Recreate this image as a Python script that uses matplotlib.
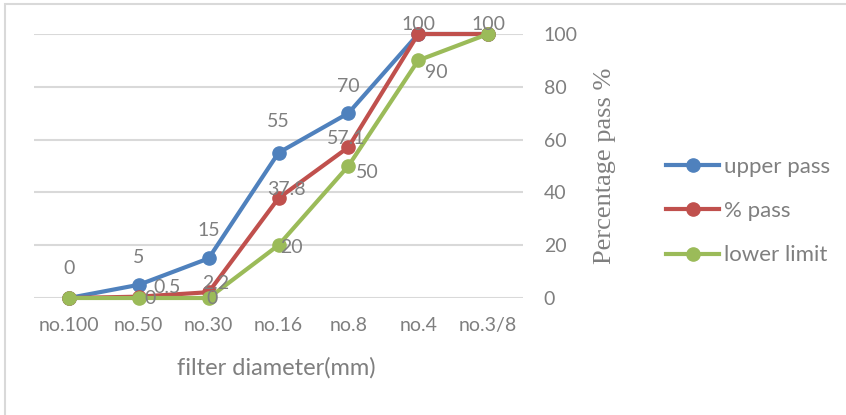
import matplotlib.pyplot as plt
from matplotlib.lines import Line2D
from matplotlib.patches import Rectangle

sieves = ["no.100", "no.50", "no.30", "no.16", "no.8", "no.4", "no.3/8"]
upper_pass = [0, 5, 15, 55, 70, 100, 100]
pct_pass = [0, 0.5, 2.2, 37.8, 57.1, 100, 100]
lower_limit = [0, 0, 0, 20, 50, 90, 100]

# label offsets in pixels (dx, dy), screen y points up
upper_off = [(0, 30), (0, 27), (0, 28), (0, 31), (0, 27), (0, 10), (0, 10)]
pct_off = [(0, 30), (28, 9), (7, 9), (8, 9), (-2, 9), (0, 10), (0, 10)]
lower_off = [(0, 30), (11, 0), (3, 0), (13, -2), (19, -6), (18, -12), (0, 10)]

grey = "#7f7f7f"
blue, red, green = "#4f81bd", "#c0504d", "#9bbb59"
plt.rcParams["font.family"] = ["Lato", "DejaVu Sans"]

fig = plt.figure(figsize=(8.46, 4.15), dpi=100)
fig.patches.append(Rectangle((5 / 846, -0.1), 2, 1.1 - 4 / 415, transform=fig.transFigure,
                             fill=False, edgecolor="#d9d9d9", lw=1.5))
ax = fig.add_axes([34 / 846, (415 - 298) / 415, (523 - 34) / 846, (298 - 34) / 415])

x = range(len(sieves))
series = [(upper_pass, blue, "upper pass", upper_off),
          (pct_pass, red, "% pass", pct_off),
          (lower_limit, green, "lower limit", lower_off)]
for vals, col, name, offs in series:
    ax.plot(x, vals, color=col, lw=3, marker="o", ms=9.5, label=name, clip_on=False, zorder=3)

# labels that land on the same spot with the same text are drawn once
placed = set()
for vals, col, name, offs in series:
    for i, v in enumerate(vals):
        key = (i, v, offs[i])
        if key in placed:
            continue
        placed.add(key)
        ax.annotate(f"{v:g}", (i, v), xytext=(offs[i][0] * 0.72, offs[i][1] * 0.72),
                    textcoords="offset points", ha="center", va="center",
                    fontsize=14, color=grey, zorder=5)

ax.set_xlim(-0.5, 6.5)
ax.set_ylim(0, 100)
ax.set_yticks(range(0, 101, 20))
ax.set_xticks(list(x))
ax.set_xticklabels(sieves)
ax.yaxis.tick_right()
ax.grid(axis="y", color="#d9d9d9", lw=1.5)
ax.set_axisbelow(True)
for s in ax.spines.values():
    s.set_visible(False)
ax.tick_params(axis="both", length=0, labelsize=14, labelcolor=grey)
ax.tick_params(axis="y", pad=15)
ax.tick_params(axis="x", pad=14)
for lbl in ax.get_yticklabels():
    lbl.set_horizontalalignment("left")

fig.text(276 / 846, 1 - 368 / 415, "filter diameter(mm)", ha="center", va="center",
         fontsize=17, color=grey)
fig.text(605 / 846, 1 - 166 / 415, "Percentage pass %", ha="center", va="center",
         rotation=90, fontsize=19, color=grey, family="Liberation Serif")

handles = [Line2D([], [], color=c, lw=3, marker="o", ms=9.5) for c in (blue, red, green)]
leg = fig.legend(handles, ["upper pass", "% pass", "lower limit"], loc="center left",
                 bbox_to_anchor=(646 / 846, 1 - 211 / 415), frameon=False, fontsize=16,
                 handlelength=2.4, handletextpad=0.2, labelspacing=1.1, labelcolor=grey)

fig.savefig("out.png", dpi=100)
